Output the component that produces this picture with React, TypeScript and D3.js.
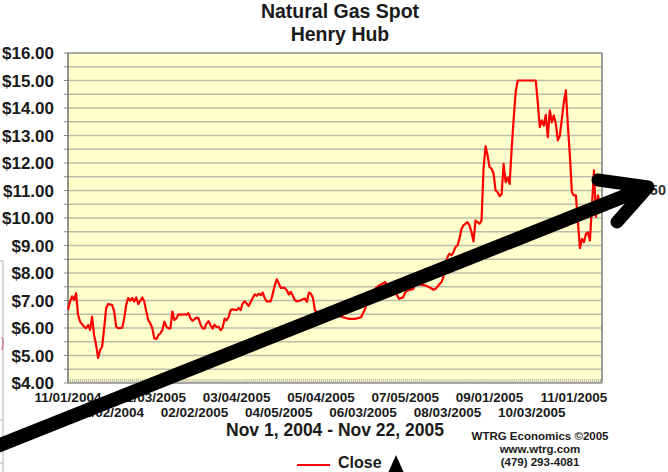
import React from 'react';
import * as d3 from 'd3';

// trading-day index (0 = 11/01/2004) and Henry Hub close ($/MMBtu)
const days = [
  0, 1, 2, 3, 4, 5, 6, 8, 9, 10, 11, 12, 13, 14, 15, 16, 17, 18, 19, 20, 22, 23, 24, 25, 27, 28, 29, 30,
  31, 32, 33, 34, 35, 37, 38, 39, 40, 41, 42, 43, 44, 45, 46, 47, 48, 49, 50, 51, 52, 53, 54, 55, 56, 58,
  59, 60, 61, 62, 64, 65, 66, 67, 68, 69, 70, 71, 72, 73, 74, 75, 76, 77, 78, 79, 80, 81, 82, 84, 85, 86,
  87, 88, 89, 90, 92, 93, 94, 95, 96, 97, 98, 99, 101, 102, 103, 104, 105, 106, 108, 109, 110, 111, 112,
  113, 114, 116, 117, 118, 119, 120, 121, 122, 123, 124, 126, 129, 130, 133, 137, 140, 143, 146, 148, 149,
  152, 155, 158, 159, 163, 165, 167, 168, 169, 172, 173, 178, 180, 182, 183, 186, 187, 189, 190, 191, 192,
  193, 194, 195, 196, 197, 199, 200, 201, 202, 203, 204, 205, 206, 207, 208, 209, 210, 211, 212, 213, 214,
  215, 216, 217, 218, 219, 220, 221, 222, 223, 224, 228, 233, 234, 235, 236, 237, 238, 239, 240, 241, 242,
  243, 244, 245, 246, 247, 248, 249, 250, 251, 252, 253, 254, 255, 256, 257, 258, 259, 260, 261, 262, 263,
  264, 265,
];
const closes = [
  6.66, 6.96, 7.15, 7.02, 7.27, 6.48, 6.23, 6.05, 5.99, 6.11, 5.93, 6.41, 5.74, 5.38, 4.91, 5.2, 5.32, 5.99,
  6.72, 6.87, 6.84, 6.6, 6.05, 5.99, 6.01, 6.35, 6.84, 7.09, 7.0, 7.09, 6.96, 7.11, 6.87, 7.11, 6.96, 6.6,
  6.29, 6.17, 5.99, 5.62, 5.6, 5.74, 5.8, 5.93, 6.23, 6.05, 5.99, 5.99, 6.6, 6.29, 6.35, 6.5, 6.48, 6.5,
  6.48, 6.54, 6.35, 6.26, 6.38, 6.35, 6.13, 5.99, 5.98, 6.16, 6.25, 6.1, 5.98, 6.12, 6.04, 6.04, 5.92, 6.0,
  6.34, 6.28, 6.4, 6.65, 6.68, 6.65, 6.73, 6.65, 6.89, 6.97, 6.89, 6.8, 7.09, 7.22, 7.17, 7.25, 7.19, 7.29,
  7.09, 6.97, 6.97, 7.25, 7.55, 7.77, 7.62, 7.46, 7.46, 7.37, 7.22, 7.31, 7.17, 7.01, 6.97, 7.01, 7.05,
  7.07, 6.95, 7.29, 7.25, 7.09, 6.65, 6.58, 6.52, 6.47, 6.4, 6.48, 6.39, 6.33, 6.33, 6.39, 6.7, 6.94, 7.36,
  7.55, 7.67, 7.55, 7.3, 7.06, 7.12, 7.3, 7.36, 7.42, 7.61, 7.55, 7.48, 7.39, 7.42, 7.67, 7.85, 8.58, 8.7,
  8.64, 8.76, 8.94, 9.0, 9.24, 9.61, 9.73, 9.85, 9.73, 9.48, 9.15, 9.91, 9.85, 9.79, 9.91, 11.79, 12.61,
  12.27, 11.85, 11.79, 11.61, 11.0, 10.94, 10.79, 10.88, 11.97, 11.3, 11.48, 11.24, 12.52, 13.61, 14.58,
  15.0, 15.0, 15.0, 14.21, 13.3, 13.55, 13.36, 13.75, 12.94, 13.91, 13.48, 13.73, 13.42, 12.82, 13.0, 13.61,
  14.21, 14.64, 13.36, 12.27, 10.94, 10.82, 10.82, 9.85, 8.9, 9.24, 9.12, 9.42, 9.48, 9.18, 10.45, 11.73,
  10.05, 10.82, 10.5,
];

const yTicks = [4, 5, 6, 7, 8, 9, 10, 11, 12, 13, 14, 15, 16];
const xTickDays = [0, 21, 42, 63, 84, 105, 126, 147, 168, 189, 210, 231, 252];
const xTickLabels = [
  '11/01/2004', '12/02/2004', '01/03/2005', '02/02/2005', '03/04/2005', '04/05/2005', '05/04/2005',
  '06/03/2005', '07/05/2005', '08/03/2005', '09/01/2005', '10/03/2005', '11/01/2005',
];
const titleLines = ['Natural Gas Spot', 'Henry Hub'];
const subtitle = 'Nov 1, 2004 - Nov 22, 2005';
const creditLines = ['WTRG Economics  \u00A92005', 'www.wtrg.com', '(479) 293-4081'];
const lastLabel = '$10.50';
const legendLabel = 'Close';

const FONT = "'Liberation Sans', Arial, sans-serif";

export default function App() {
  const W = 668;
  const H = 472;
  const left = 68, right = 602, top = 53, bottom = 383;
  const x = d3.scaleLinear().domain([0, 266]).range([left, right]);
  const y = d3.scaleLinear().domain([4, 16]).range([bottom, top]);
  const grid = d3.range(4, 16.001, 0.5);
  const line = d3
    .line<number>()
    .x((_, i) => x(days[i]))
    .y((d) => y(d));
  const allDays = d3.range(0, 267);

  return (
    <svg
      width={W}
      height={H}
      viewBox={`0 0 ${W} ${H}`}
      style={{ position: 'absolute', left: 0, top: 0, display: 'block', background: '#fff' }}
      fontFamily={FONT}
    >
      <rect x={0} y={0} width={W} height={H} fill="#fff" />
      {/* remnant of a neighbouring frame at the left edge */}
      <path d="M0,261 H3 V472" fill="none" stroke="#b0b0b0" strokeWidth={1} />
      <path d="M0,420 H3 M0,463 H3" stroke="#b0b0b0" strokeWidth={1} />
      <path d="M2,337 Q4,342 2,350" fill="none" stroke="#d08090" strokeWidth={1.5} />

      {/* titles */}
      {titleLines.map((t, i) => (
        <text key={t} x={340} y={18 + i * 23} textAnchor="middle" fontSize={19.5} fontWeight="bold" fill="#1a1a1a">
          {t}
        </text>
      ))}

      {/* plot area */}
      <rect x={left} y={top} width={right - left} height={bottom - top} fill="#FFFFCC" />
      {grid.map((g) => (
        <line key={g} x1={left} x2={right} y1={y(g)} y2={y(g)} stroke="#bdbcaa" strokeWidth={1.5} />
      ))}
      {grid.map((g) => (
        <line key={'t' + g} x1={left - 4} x2={left} y1={y(g)} y2={y(g)} stroke="#8a8a8a" strokeWidth={1} />
      ))}
      {allDays.map((d) => (
        <line key={'d' + d} x1={x(d) + 0.5} x2={x(d) + 0.5} y1={bottom - 4} y2={bottom} stroke="#b4b4a4" strokeWidth={1} />
      ))}
      <line x1={left} x2={right} y1={top} y2={top} stroke="#9a9a9a" strokeWidth={1.5} />
      <line x1={right} x2={right} y1={top} y2={bottom} stroke="#9a9a9a" strokeWidth={2} />
      <line x1={left} x2={right} y1={bottom} y2={bottom} stroke="#9a9a9a" strokeWidth={1.5} />
      <line x1={left} x2={left} y1={top} y2={bottom} stroke="#707070" strokeWidth={1.5} />

      {/* y labels */}
      {yTicks.map((t) => (
        <text key={t} x={54} y={y(t)} dy="0.36em" textAnchor="end" fontSize={17} fontWeight="bold" fill="#1a1a1a">
          {'$' + t.toFixed(2)}
        </text>
      ))}

      {/* x labels, staggered */}
      {xTickDays.map((d, i) => (
        <text
          key={d}
          x={x(d)}
          y={i % 2 === 0 ? 402 : 417}
          textAnchor="middle"
          fontSize={13.5}
          fontWeight="bold"
          fill="#1a1a1a"
        >
          {xTickLabels[i]}
        </text>
      ))}

      {/* series */}
      <path d={line(closes) || ''} fill="none" stroke="#ff0000" strokeWidth={2.2} strokeLinejoin="round" />

      {/* last value label */}
      <text x={666} y={195} textAnchor="end" fontSize={14.5} fontWeight="bold" fill="#333">
        {lastLabel}
      </text>

      {/* subtitle and credits */}
      <text x={335} y={436} textAnchor="middle" fontSize={17.5} fontWeight="bold" fill="#1a1a1a">
        {subtitle}
      </text>
      {creditLines.map((t, i) => (
        <text key={t} x={540} y={440 + i * 13} textAnchor="middle" fontSize={11.5} fontWeight="bold" fill="#1a1a1a">
          {t}
        </text>
      ))}

      {/* legend */}
      <line x1={297} x2={330} y1={465} y2={465} stroke="#ff0000" strokeWidth={2} />
      <text x={338} y={468} fontSize={16} fontWeight="bold" fill="#1a1a1a">
        {legendLabel}
      </text>

      {/* overlaid annotation arrows */}
      <path d="M-10,449 L645,188" stroke="#000" strokeWidth={14} strokeLinecap="round" fill="none" />
      <path d="M598,180 L648,187 L617,222" stroke="#000" strokeWidth={13} strokeLinecap="round" strokeLinejoin="round" fill="none" />
      <path d="M396,455 L404,473 L388,473 Z" fill="#000" />
    </svg>
  );
}
